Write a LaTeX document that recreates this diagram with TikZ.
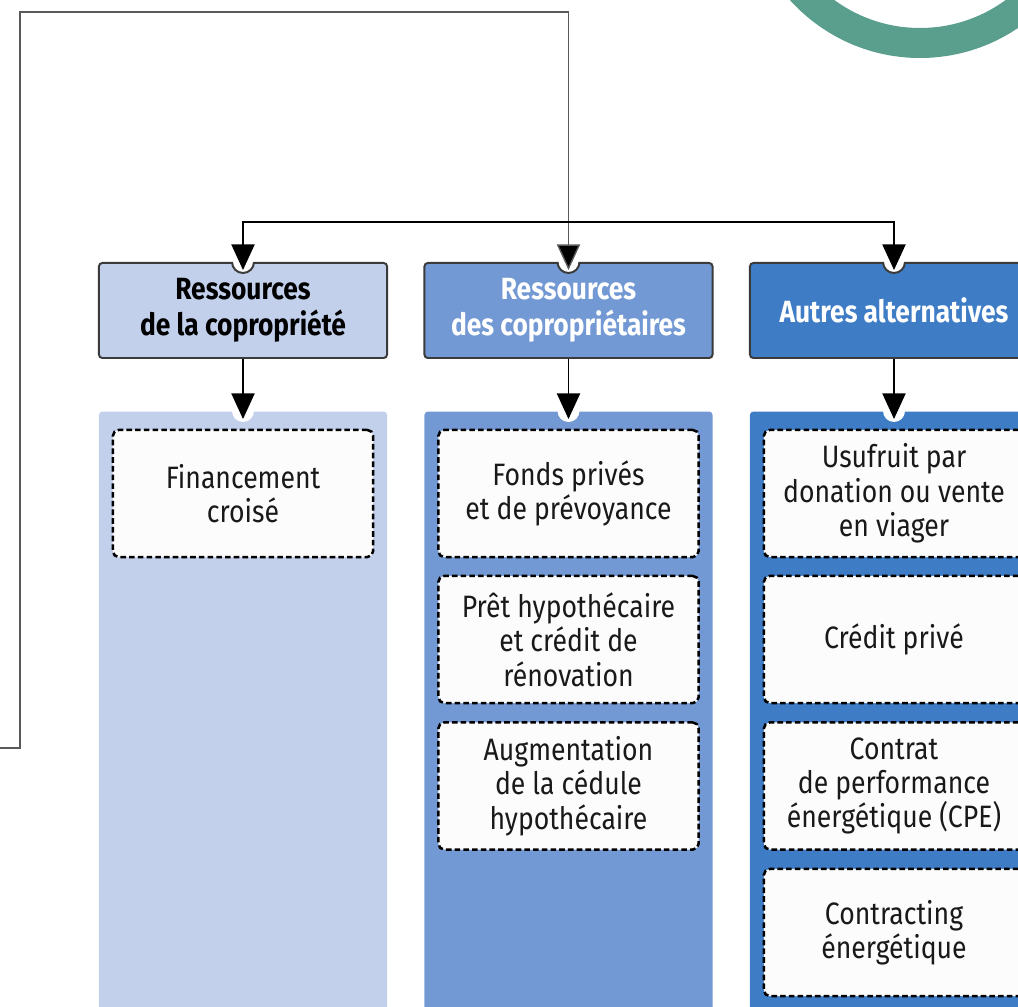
\documentclass[tikz,border=0pt]{standalone}
\usepackage{fontspec}
\setmainfont{Fira Sans}[FakeStretch=0.86]
\usetikzlibrary{arrows.meta}
\definecolor{lightcol}{HTML}{C2D0EC}
\definecolor{midcol}{HTML}{7399D4}
\definecolor{darkcol}{HTML}{3F7CC6}
\definecolor{ringcol}{HTML}{5A9E8E}
\definecolor{framecol}{HTML}{3A3A3A}
\tikzset{
  headbox/.style={draw=framecol, line width=0.7pt, rounded corners=1.2pt, minimum width=3.6cm,
    minimum height=1.1875cm, anchor=north, align=center, font=\fontsize{10.9}{12.6}\selectfont\bfseries, inner sep=0pt},
  colbox/.style={rounded corners=1.2pt, minimum width=3.6cm, minimum height=7.7cm, anchor=north, inner sep=0pt},
  itembox/.style={draw=black, fill=white!99!black, dash pattern=on 2pt off 1.1pt, line width=0.9pt,
    rounded corners=2pt, minimum width=3.25cm, minimum height=1.5875cm, align=center, inner sep=0pt, text=black!90},
  conn/.style={line width=0.5pt, -{Triangle[length=0.32cm,width=0.29cm]}, shorten >=-0.1cm},
}
\begin{document}
\begin{tikzpicture}[x=0.0125cm,y=0.0125cm,font=\fontsize{11}{12.2}\selectfont]
  \def\xa{243};
  \def\xb{568.5};
  \def\xc{894};
  \useasboundingbox (0,0) rectangle (1018,-1007);
  \draw[ringcol, line width=0.375cm] (920,117) circle (160);
  % columns
  \node[colbox, fill=lightcol] (colA) at (\xa,-411) {};
  \node[colbox, fill=midcol] (colB) at (\xb,-411) {};
  \node[colbox, fill=darkcol] (colC) at (\xc,-411) {};
  % headers
  \node[headbox, fill=lightcol] (hdA) at (\xa,-262) {Ressources\\de la copropriété};
  \node[headbox, fill=midcol, text=white] (hdB) at (\xb,-262) {Ressources\\des copropriétaires};
  \node[headbox, fill=darkcol, text=white] (hdC) at (\xc,-262) {Autres alternatives};
  \foreach \n in {hdA,hdB,hdC}{
    \fill[white] (\n.north) circle (11);
    \draw[framecol, line width=0.7pt] (\n.north) ++(-11,0) arc (180:360:11);
  }
  \foreach \n in {colA,colB,colC}
    \fill[white] (\n.north) circle (11);
  % items
  \node[itembox] (finA) at (\xa,-493.5) {Financement\\croisé};
  \node[itembox] (fonds) at (\xb,-493.5) {Fonds privés\\et de prévoyance};
  \node[itembox] (pret) at (\xb,-639.5) {Prêt hypothécaire\\et crédit de\\rénovation};
  \node[itembox] (cedule) at (\xb,-786) {Augmentation\\de la cédule\\hypothécaire};
  \node[itembox] (usufr) at (\xc,-493.5) {Usufruit par\\donation ou vente\\en viager};
  \node[itembox] (credit) at (\xc,-639.5) {Crédit privé};
  \node[itembox] (cpe) at (\xc,-786) {Contrat\\de performance\\énergétique (CPE)};
  \node[itembox] (contr) at (\xc,-932.5) {Contracting\\énergétique};
  % connectors
  \coordinate (src) at (0,-748);
  \coordinate (fork) at (\xb,-222);
  \draw[conn, draw=black!65, -{Triangle[length=0.32cm,width=0.29cm,fill=black]}] (src) -- (20,-748) |- (\xb,-12) -- (hdB.north);
  \draw[conn] (fork) -| (hdA.north);
  \draw[conn] (fork) -| (hdC.north);
  \draw[conn] (hdA.south) -- (colA.north);
  \draw[conn] (hdB.south) -- (colB.north);
  \draw[conn] (hdC.south) -- (colC.north);
\end{tikzpicture}
\end{document}
